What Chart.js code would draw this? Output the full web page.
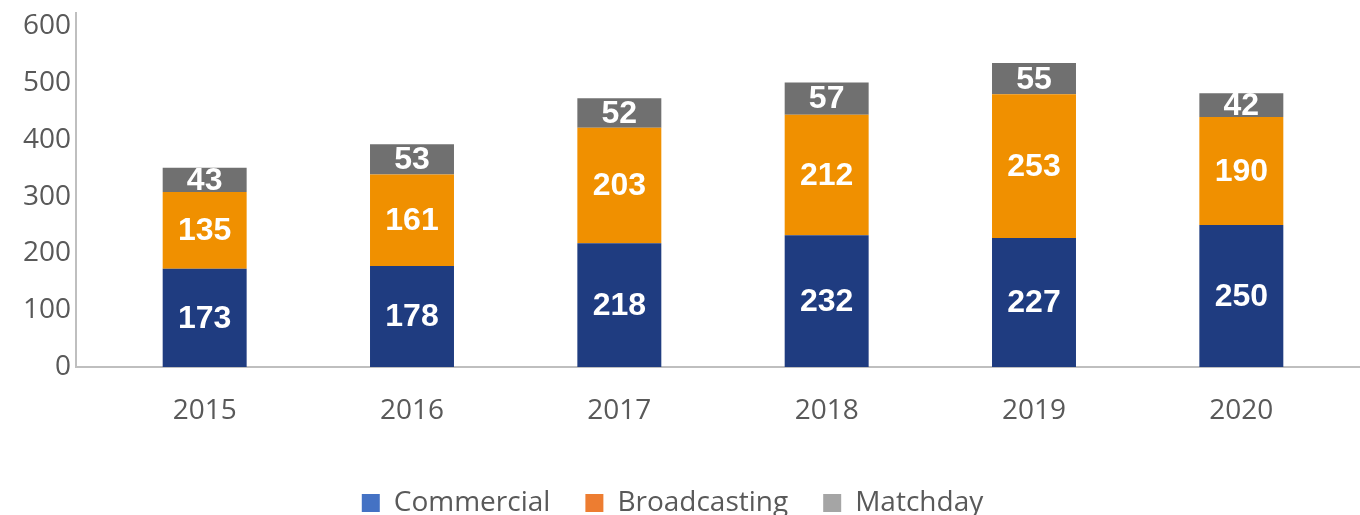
<!DOCTYPE html>
<html>
<head>
<meta charset="utf-8">
<script src="https://cdn.jsdelivr.net/npm/chart.js@4.4.1/dist/chart.umd.min.js"></script>
<style>
  html, body { margin: 0; padding: 0; background: #fff; overflow: hidden; }
  #wrap { width: 1360px; height: 527px; position: relative; }
</style>
</head>
<body>
<div id="wrap"><canvas id="revenueChart"></canvas></div>
<script>
// Chart data
const years = ["2015", "2016", "2017", "2018", "2019", "2020"];
const commercial = [173, 178, 218, 232, 227, 250];
const broadcasting = [135, 161, 203, 212, 253, 190];
const matchday = [43, 53, 52, 57, 55, 42];
const yTicks = [0, 100, 200, 300, 400, 500, 600];

const seriesNames = ["Commercial", "Broadcasting", "Matchday"];
const barColors = ["#1F3C80", "#F09000", "#707070"];
const legendColors = ["#4472C4", "#ED7D31", "#A5A5A5"];

// Axis lines drawn a little left of the plot area, like the original
const axisLines = {
  id: "axisLines",
  beforeDatasetsDraw(chart) {
    const { ctx, chartArea, scales } = chart;
    const x0 = chartArea.left - 25;
    const yBottom = scales.y.getPixelForValue(0);
    ctx.save();
    ctx.strokeStyle = "#BFBFBF";
    ctx.lineWidth = 2;
    ctx.beginPath();
    ctx.moveTo(x0, chartArea.top);
    ctx.lineTo(x0, yBottom);
    ctx.lineTo(chart.width, yBottom);
    ctx.stroke();
    ctx.restore();
  }
};

// Value labels in the middle of each segment
const segmentLabels = {
  id: "segmentLabels",
  afterDatasetsDraw(chart) {
    const ctx = chart.ctx;
    ctx.save();
    ctx.fillStyle = "#FFFFFF";
    ctx.font = "bold 32px 'Liberation Sans', Arial, sans-serif";
    ctx.textAlign = "center";
    ctx.textBaseline = "middle";
    chart.data.datasets.forEach((ds, i) => {
      const meta = chart.getDatasetMeta(i);
      meta.data.forEach((bar, j) => {
        const { x, y, base } = bar.getProps(["x", "y", "base"], true);
        ctx.fillText(String(ds.data[j]), x, (y + base) / 2 + 1);
      });
    });
    ctx.restore();
  }
};

const ctx = document.getElementById("revenueChart").getContext("2d");

const data = {
  labels: years,
  datasets: [commercial, broadcasting, matchday].map((values, i) => ({
    label: seriesNames[i],
    data: values,
    backgroundColor: barColors[i],
    borderWidth: 0,
    barPercentage: 0.405,
    categoryPercentage: 1
  }))
};

const tickFont = { family: "'Open Sans', sans-serif", size: 28 };

new Chart(ctx, {
  type: "bar",
  data: data,
  plugins: [axisLines, segmentLabels],
  options: {
    responsive: true,
    maintainAspectRatio: false,
    animation: false,
    layout: { padding: { top: 12, right: 15, left: 0, bottom: 0 } },
    plugins: {
      tooltip: { enabled: false },
      legend: {
        position: "bottom",
        labels: {
          font: tickFont,
          color: "#595959",
          boxWidth: 18,
          boxHeight: 18,
          padding: 35,
          generateLabels(chart) {
            const items = Chart.defaults.plugins.legend.labels.generateLabels(chart);
            items.forEach((item, i) => {
              item.fillStyle = legendColors[i];
              item.strokeStyle = legendColors[i];
              item.lineWidth = 0;
            });
            return items;
          }
        }
      }
    },
    scales: {
      x: {
        stacked: true,
        grid: { display: false, drawTicks: false },
        border: { display: false },
        ticks: { font: tickFont, color: "#595959", padding: 27 },
        afterFit(scale) { scale.height = 87; }
      },
      y: {
        stacked: true,
        min: 0,
        max: 625,
        grid: { display: false, drawTicks: false },
        border: { display: false },
        ticks: { font: tickFont, color: "#595959", padding: 30 },
        afterBuildTicks(scale) { scale.ticks = yTicks.map(v => ({ value: v })); },
        afterFit(scale) {
          scale.width = 101;
          scale.paddingTop = 0;
          scale.paddingBottom = 0;
        }
      }
    }
  }
});
</script>
</body>
</html>
